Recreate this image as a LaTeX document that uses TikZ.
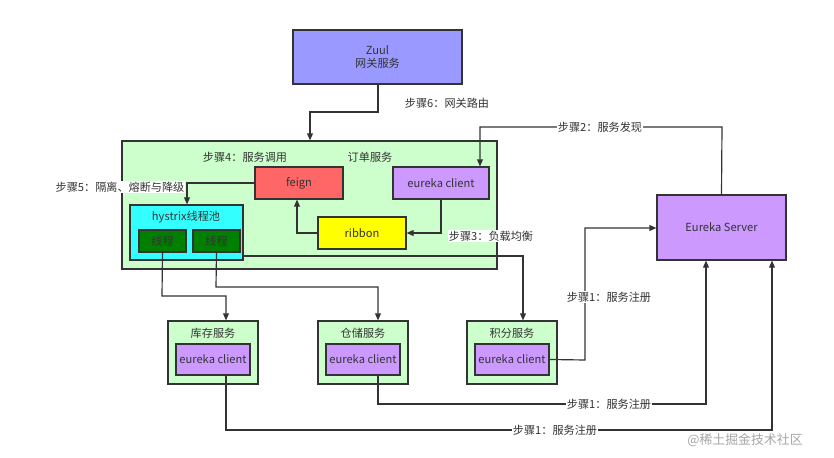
\documentclass[tikz,border=0pt]{standalone}
\usepackage{fontspec}
\setmainfont{Noto Sans CJK SC}
\usetikzlibrary{arrows.meta}
\definecolor{cz}{HTML}{9999FF}
\definecolor{cg}{HTML}{CCFFCC}
\definecolor{cp}{HTML}{CC99FF}
\definecolor{cr}{HTML}{FF6666}
\definecolor{cc}{HTML}{33FFFF}
\definecolor{cy}{HTML}{FFFF00}
\definecolor{cdg}{HTML}{008000}
\definecolor{tx}{HTML}{333333}
\begin{document}
\begin{tikzpicture}[x=0.03cm,y=-0.03cm,
 font=\fontsize{9.5}{11}\selectfont, text=tx,
 bx/.style={draw=tx,line width=1pt,minimum width=#1*0.03cm,inner sep=0pt},
 ar/.style={draw=tx,line width=1pt,-{Triangle[length=6pt,width=5pt]}},
 ln/.style={draw=tx,line width=1pt},
 lb/.style={fill=white,inner sep=1pt}]
\useasboundingbox (0,0) rectangle (834,458);
\node[bx=169,minimum height=54*0.03cm,fill=cz,align=center] (zuul) at (377.5,57) {Zuul\\网关服务};
\node[bx=375,minimum height=128*0.03cm,fill=cg] (order) at (309.5,205) {};
\node (ordl) at (370,157) {订单服务};
\node (s4) at (245,157) {步骤4：服务调用};
\node[bx=88,minimum height=32*0.03cm,fill=cr] (feign) at (299,183) {feign};
\node[bx=96,minimum height=32*0.03cm,fill=cp] (ec) at (441,183) {eureka client};
\node[bx=88,minimum height=32*0.03cm,fill=cy] (rib) at (362,233) {ribbon};
\node[bx=113,minimum height=55*0.03cm,fill=cc] (hys) at (186.5,232.5) {};
\node (hysl) at (186,217) {hystrix线程池};
\node[bx=47,minimum height=22*0.03cm,fill=cdg] (t1) at (162.5,241) {线程};
\node[bx=47,minimum height=22*0.03cm,fill=cdg] (t2) at (216.5,241) {线程};
\node[bx=129,minimum height=65*0.03cm,fill=cp] (es) at (721.5,227.5) {Eureka Server};
\foreach \n/\x/\t in {k/213/库存服务,c/363/仓储服务,j/512/积分服务}{
 \node[bx=90,minimum height=63*0.03cm,fill=cg] (\n) at (\x,352.5) {};
 \node (\n l) at (\x,333) {\t};
 \node[bx=74,minimum height=31*0.03cm,fill=cp] (\n e) at (\x,359.5) {eureka client};
}
\coordinate (a1) at (378,112);
\draw[ar] (zuul.south -| a1) -- (a1) -- (310,112) -- (order.north -| 310,0);
\node[lb] (s6) at (447,103) {步骤6：网关路由};
\draw[ar] (es.north) -- (722,127) -- (480,127) -- (ec.north -| 480,0);
\node[lb] (s2) at (600,127) {步骤2：服务发现};
\draw[ar] (ec.south) -- (441,233) -- (rib.east);
\node[lb] (s3) at (491,236) {步骤3：负载均衡};
\draw[ar] (rib.west) -- (297,233) -- (feign.south -| 297,0);
\draw[ar] (feign.west) -- (187,183) -- (hys.north -| 187,0);
\node[lb] (s5) at (120,187) {步骤5：隔离、熔断与降级};
\draw[ar] (243,256) -- (523,256) -- (j.north -| 523,0);
\draw[ar] (t1.south) -- (162,296) -- (226,296) -- (k.north -| 226,0);
\draw[ar] (t2.south) -- (216,287) -- (378,287) -- (c.north -| 378,0);
\draw[ar] (je.east) -- (585,360) -- (585,228) -- (es.west |- 0,228);
\node[lb] (s1a) at (609,297) {步骤1：服务注册};
\draw[ar] (ce.south -| 378,0) -- (378,404) -- (706,404) -- (es.south -| 706,0);
\node[lb] (s1b) at (609,404) {步骤1：服务注册};
\draw[ar] (ke.south -| 226,0) -- (226,430) -- (772,430) -- (es.south -| 772,0);
\node[lb] (s1c) at (555,430) {步骤1：服务注册};
\node[text=gray!70,font=\fontsize{11}{12}\selectfont] (wm) at (745,440) {@稀土掘金技术社区};
\end{tikzpicture}
\end{document}
